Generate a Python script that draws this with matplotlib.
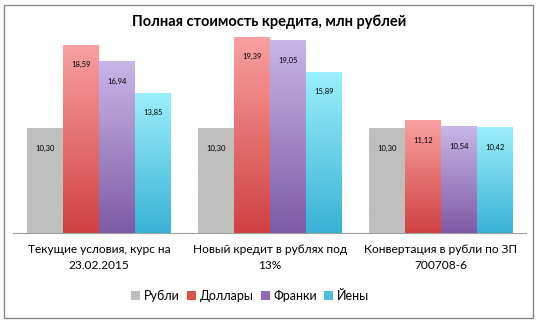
import numpy as np
import matplotlib.pyplot as plt
from matplotlib.patches import Rectangle, Patch
from matplotlib.colors import LinearSegmentedColormap

plt.rcParams['font.family'] = ['Lato', 'DejaVu Sans']

categories = ["Текущие условия, курс на\n23.02.2015",
              "Новый кредит в рублях под\n13%",
              "Конвертация в рубли по ЗП\n700708-6"]
series = ["Рубли", "Доллары", "Франки", "Йены"]
rub = [10.30, 10.30, 10.30]
usd = [18.59, 19.39, 11.12]
chf = [16.94, 19.05, 10.54]
jpy = [13.85, 15.89, 10.42]
values = [rub, usd, chf, jpy]

# (top colour, bottom colour) for each series
colours = [("#bfbfbf", "#bfbfbf"),
           ("#f9a0a0", "#d04141"),
           ("#c9b6e8", "#7e5aa6"),
           ("#9ceffd", "#39b2d5")]
legend_colours = ["#bfbfbf", "#d9534f", "#8f6bb8", "#4cbfdc"]

fig = plt.figure(figsize=(5.38, 3.22), dpi=100)
ax = fig.add_axes([0.025, 1 - 233 / 322, 0.9535, 202 / 322])

n = len(series)
width = 1 / (n + 0.75)
x = np.arange(len(categories))

for i, (vals, (top, bottom)) in enumerate(zip(values, colours)):
    cmap = LinearSegmentedColormap.from_list(series[i], [bottom, top])
    grad = np.linspace(0, 1, 256).reshape(-1, 1)
    for xc, v in zip(x, vals):
        x0 = xc - n * width / 2 + i * width
        ax.imshow(grad, extent=(x0, x0 + width, 0, v), origin='lower',
                  cmap=cmap, aspect='auto', zorder=2)
        lbl = f"{v:.2f}".replace(".", ",")
        ax.annotate(lbl, (x0 + width / 2, v), xytext=(0, -14),
                    textcoords='offset points', ha='center', va='center',
                    fontsize=5.5, color='black', zorder=3)

ax.set_xlim(-0.5, len(categories) - 0.5)
ax.set_ylim(0, 20)
ax.set_xticks(x)
ax.set_xticklabels(categories, fontsize=8.6, linespacing=1.5)
ax.tick_params(axis='x', length=0, pad=8)
ax.set_yticks([])
for side in ['top', 'right', 'left']:
    ax.spines[side].set_visible(False)
ax.spines['bottom'].set_color('#a0a0a0')
ax.set_facecolor('none')

fig.text(0.5, 1 - 22 / 322, "Полная стоимость кредита, млн рублей",
         ha='center', va='center', fontsize=10.5, fontweight='bold')

handles = [Patch(facecolor=c, edgecolor='none', label=s)
           for s, c in zip(series, legend_colours)]
fig.legend(handles=handles, loc='center', bbox_to_anchor=(0.465, 1 - 296 / 322),
           ncol=4, frameon=False, fontsize=9, handlelength=0.7,
           handleheight=0.7, handletextpad=0.3, columnspacing=0.6)

fig.patches.append(Rectangle((4 / 538, 4 / 322), 529 / 538, 313 / 322,
                             transform=fig.transFigure, fill=False,
                             edgecolor='#888888', linewidth=1))

fig.savefig("out.png", dpi=100)
